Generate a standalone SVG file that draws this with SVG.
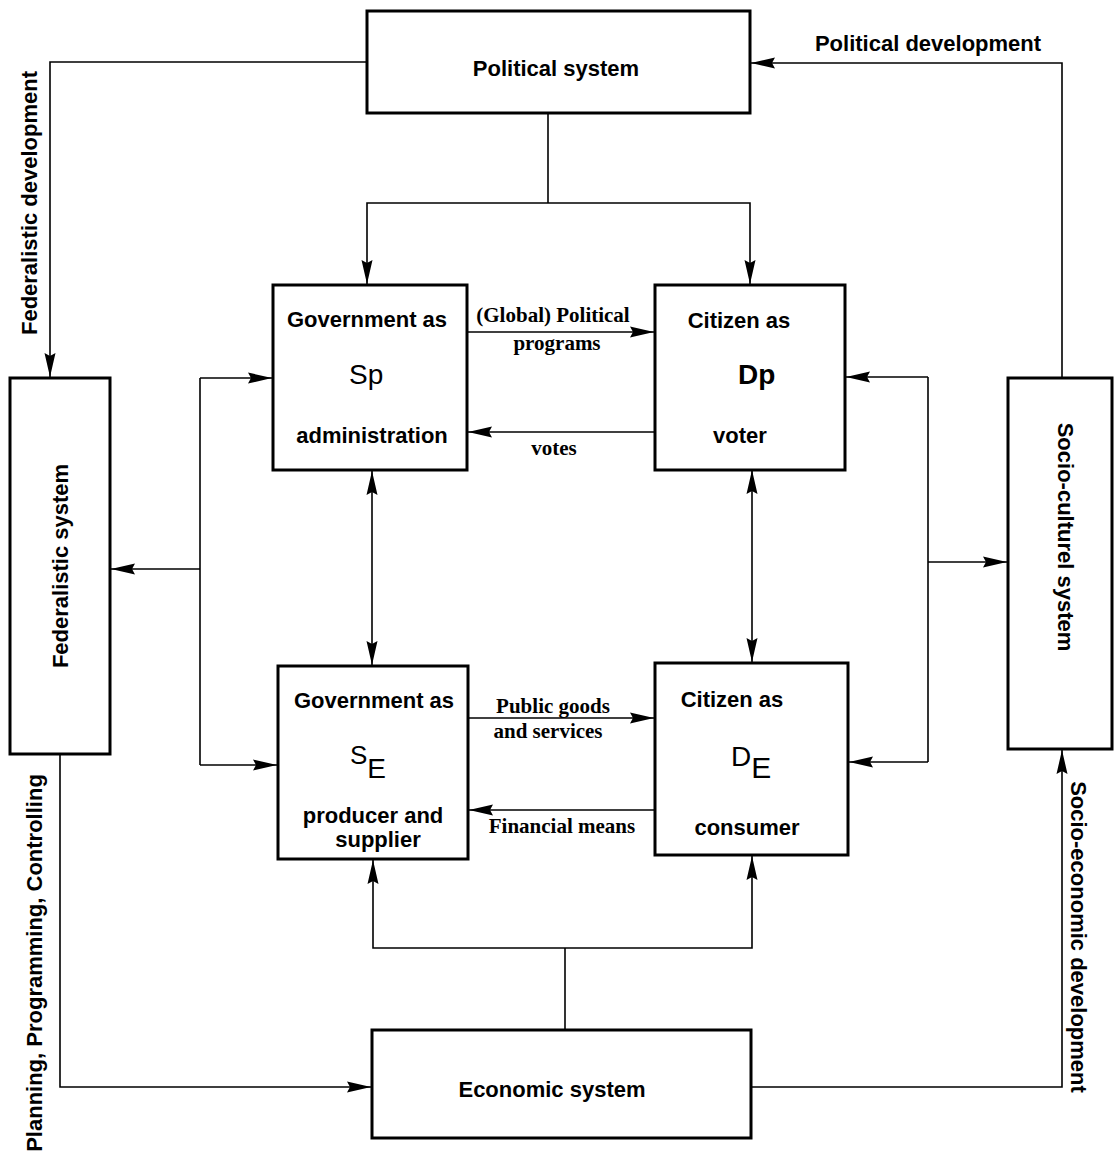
<svg xmlns="http://www.w3.org/2000/svg" width="1114" height="1159" viewBox="0 0 1114 1159">
<defs>
<style>
.box{fill:#fff;stroke:#000;stroke-width:3}
.ln{fill:none;stroke:#000;stroke-width:1.6}
.t{font-family:"Liberation Sans",Arial,sans-serif;font-weight:bold;font-size:22px;fill:#000;text-anchor:middle}
.sym{font-family:"Liberation Sans",Arial,sans-serif;font-size:28px;fill:#000}
.e{font-family:"Liberation Serif","Times New Roman",serif;font-weight:bold;font-size:21px;fill:#000;text-anchor:middle}
</style>
<marker id="a" viewBox="0 0 24 12" refX="24" refY="6" markerWidth="24" markerHeight="12" markerUnits="userSpaceOnUse" orient="auto-start-reverse">
<path d="M0,0.5 L24,6 L0,11.5 L3,6 z" fill="#000"/>
</marker>
</defs>
<rect width="1114" height="1159" fill="#fff"/>
<g id="connectors">
<path class="ln" d="M367,62 H50 V377" marker-end="url(#a)"/>
<path class="ln" d="M1062,378 V63 H751" marker-end="url(#a)"/>
<path class="ln" d="M548,113 V203"/>
<path class="ln" d="M548,203 H367 V284" marker-end="url(#a)"/>
<path class="ln" d="M548,203 H750 V284" marker-end="url(#a)"/>
<path class="ln" d="M467,332 H654" marker-end="url(#a)"/>
<path class="ln" d="M655,432 H468" marker-end="url(#a)"/>
<path class="ln" d="M468,718 H654" marker-end="url(#a)"/>
<path class="ln" d="M655,810 H469" marker-end="url(#a)"/>
<path class="ln" d="M372,471 V665" marker-start="url(#a)" marker-end="url(#a)"/>
<path class="ln" d="M752,470 V662" marker-start="url(#a)" marker-end="url(#a)"/>
<path class="ln" d="M200,378 V765"/>
<path class="ln" d="M200,378 H272" marker-end="url(#a)"/>
<path class="ln" d="M200,765 H277" marker-end="url(#a)"/>
<path class="ln" d="M200,569 H111" marker-end="url(#a)"/>
<path class="ln" d="M928,377 V762"/>
<path class="ln" d="M928,377 H846" marker-end="url(#a)"/>
<path class="ln" d="M928,762 H849" marker-end="url(#a)"/>
<path class="ln" d="M928,562 H1007" marker-end="url(#a)"/>
<path class="ln" d="M565,1030 V948"/>
<path class="ln" d="M565,948 H373 V860" marker-end="url(#a)"/>
<path class="ln" d="M565,948 H752 V856" marker-end="url(#a)"/>
<path class="ln" d="M60,754 V1087 H371" marker-end="url(#a)"/>
<path class="ln" d="M751,1087 H1062 V750" marker-end="url(#a)"/>
<text class="e" x="553" y="322">(Global) Political</text>
<text class="e" x="557" y="350">programs</text>
<text class="e" x="554" y="455">votes</text>
<text class="e" x="553" y="713">Public goods</text>
<text class="e" x="548" y="738">and services</text>
<text class="e" x="562" y="833">Financial means</text>
<text class="t" x="928" y="51">Political development</text>
<text class="t" transform="translate(37,203) rotate(-90)">Federalistic development</text>
<text class="t" transform="translate(42,963) rotate(-90)">Planning, Programming, Controlling</text>
<text class="t" transform="translate(1071,937) rotate(90)">Socio-economic development</text>
</g>
<g id="political">
<rect class="box" x="367" y="11" width="383" height="102"/>
<text class="t" x="556" y="76">Political system</text>
</g>
<g id="federalistic">
<rect class="box" x="10" y="378" width="100" height="376"/>
<text class="t" transform="translate(68,566) rotate(-90)">Federalistic system</text>
</g>
<g id="sociocultural">
<rect class="box" x="1008" y="378" width="104" height="371"/>
<text class="t" transform="translate(1058,537) rotate(90)">Socio-culturel system</text>
</g>
<g id="economic">
<rect class="box" x="372" y="1030" width="379" height="108"/>
<text class="t" x="552" y="1097">Economic system</text>
</g>
<g id="gov-sp">
<rect class="box" x="273" y="285" width="194" height="185"/>
<text class="t" x="367" y="327">Government as</text>
<text class="sym" x="349" y="384">Sp</text>
<text class="t" x="372" y="443">administration</text>
</g>
<g id="cit-dp">
<rect class="box" x="655" y="285" width="190" height="185"/>
<text class="t" x="739" y="328">Citizen as</text>
<text class="sym" x="738" y="384" style="font-weight:bold">Dp</text>
<text class="t" x="740" y="443">voter</text>
</g>
<g id="gov-se">
<rect class="box" x="278" y="666" width="190" height="193"/>
<text class="t" x="374" y="708">Government as</text>
<text class="sym" x="350" y="764" style="font-size:26px">S<tspan dy="14" style="font-size:28px">E</tspan></text>
<text class="t" x="373" y="823">producer and</text>
<text class="t" x="378" y="847">supplier</text>
</g>
<g id="cit-de">
<rect class="box" x="655" y="663" width="193" height="192"/>
<text class="t" x="732" y="707">Citizen as</text>
<text class="sym" x="731" y="766">D<tspan dy="12" style="font-size:30px">E</tspan></text>
<text class="t" x="747" y="835">consumer</text>
</g>
</svg>
